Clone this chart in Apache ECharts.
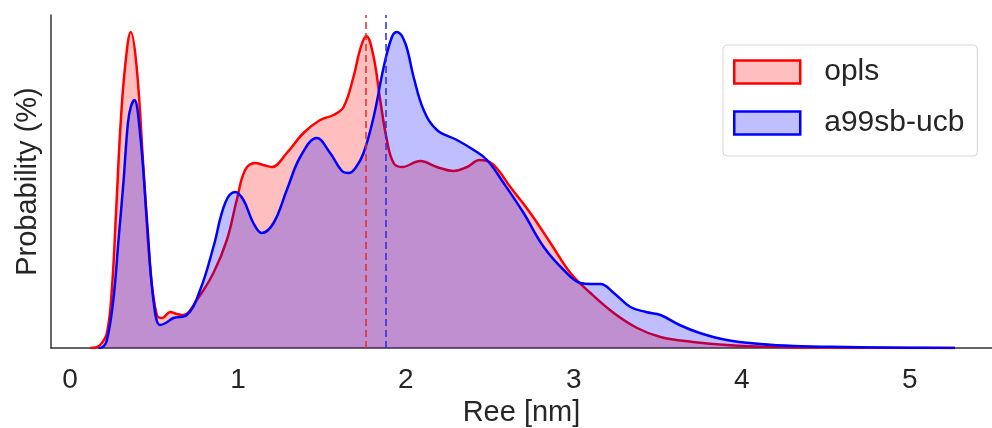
<!DOCTYPE html>
<html>
<head>
<meta charset="utf-8">
<script src="https://cdn.jsdelivr.net/npm/echarts@6/dist/echarts.min.js"></script>
<style>
html, body { margin: 0; padding: 0; background: #fff; }
#chart { width: 992px; height: 428px; }
</style>
</head>
<body>
<div id="chart"></div>
<script>
// Ree distributions (kde heights, arbitrary units)
var oplsX = [0.12, 0.15, 0.18, 0.22, 0.25, 0.278, 0.30, 0.328, 0.362, 0.397, 0.437, 0.477, 0.517, 0.55, 0.596, 0.635, 0.675, 0.755, 0.854, 0.934, 0.993, 1.043, 1.103, 1.15, 1.202, 1.291, 1.39, 1.49, 1.569, 1.629, 1.688, 1.73, 1.764, 1.808, 1.847, 1.887, 1.927, 1.977, 2.086, 2.185, 2.284, 2.364, 2.44, 2.50, 2.55, 2.622, 2.741, 2.861, 2.98, 3.099, 3.238, 3.377, 3.516, 3.71, 3.91, 4.21, 4.6, 5.0, 5.27];
var oplsY = [0, 0.5, 3, 15, 60, 148, 220, 281, 316, 281, 181, 81, 33, 30, 36, 34, 33, 48, 75, 108, 148, 178, 185, 183, 181, 195, 215, 228, 233, 241, 271, 300, 312, 291, 248, 208, 185, 181, 187, 181, 177, 181, 188, 186, 178, 161, 135, 105, 75, 55, 35, 20, 11, 6, 3, 1, 0.3, 0.1, 0];

var ucbX = [0.17, 0.19, 0.22, 0.258, 0.29, 0.318, 0.345, 0.362, 0.383, 0.417, 0.457, 0.497, 0.536, 0.57, 0.616, 0.695, 0.775, 0.854, 0.924, 0.983, 1.033, 1.092, 1.142, 1.212, 1.291, 1.371, 1.47, 1.549, 1.62, 1.659, 1.70, 1.748, 1.808, 1.868, 1.917, 1.947, 1.996, 2.046, 2.106, 2.185, 2.304, 2.404, 2.483, 2.582, 2.701, 2.821, 2.94, 3.039, 3.10, 3.159, 3.238, 3.337, 3.43, 3.516, 3.63, 3.75, 3.91, 4.11, 4.31, 4.61, 5.0, 5.27];
var ucbY = [0, 0.5, 8, 48, 110, 165, 225, 241, 248, 215, 131, 48, 23, 25, 30, 33, 58, 101, 145, 156, 148, 125, 115, 125, 158, 191, 210, 195, 177, 175, 180, 195, 231, 281, 311, 316, 305, 271, 238, 218, 208, 198, 188, 165, 135, 101, 78, 65, 64, 64, 55, 41, 36, 33, 23, 15, 8, 4, 2, 1, 0.3, 0];

var meanOpls = 1.764;
var meanUcb = 1.883;
var xTicks = [0, 1, 2, 3, 4, 5];

function pairs(xs, ys) {
    return xs.map(function (x, i) { return [x, ys[i]]; });
}

var font = 'Liberation Sans, Arial, sans-serif';
var chart = echarts.init(document.getElementById('chart'));
var option = {
    animation: false,
    backgroundColor: '#fff',
    grid: { left: 51, right: 0, top: 15, bottom: 80, outerBoundsMode: 'none' },
    legend: {
        orient: 'vertical',
        left: 723,
        top: 45,
        icon: 'rect',
        itemWidth: 66,
        itemHeight: 23,
        itemGap: 21,
        padding: [12, 13, 18, 10],
        backgroundColor: 'rgba(255,255,255,0.8)',
        borderColor: '#d6d6d6',
        borderWidth: 1,
        borderRadius: 4,
        textStyle: { fontFamily: font, fontSize: 30, color: '#262626', lineHeight: 23, padding: [0, 0, 0, 19] },
        data: [
            { name: 'opls', itemStyle: { color: 'rgba(255,0,0,0.25)', borderColor: '#ff0000', borderWidth: 2.5 } },
            { name: 'a99sb-ucb', itemStyle: { color: 'rgba(0,0,255,0.25)', borderColor: '#0000ff', borderWidth: 2.5 } }
        ]
    },
    xAxis: {
        type: 'value',
        min: -0.113,
        max: 5.49,
        name: 'Ree [nm]',
        nameLocation: 'middle',
        nameGap: 49,
        nameTextStyle: { fontFamily: font, fontSize: 29, color: '#262626' },
        axisLine: { onZero: false, lineStyle: { color: '#333', width: 1.5 } },
        axisTick: { show: false },
        splitLine: { show: false },
        axisLabel: { customValues: xTicks, fontFamily: font, fontSize: 28, color: '#262626', margin: 18 }
    },
    yAxis: {
        type: 'value',
        min: 0,
        max: 333,
        name: 'Probability (%)',
        nameLocation: 'middle',
        nameGap: 9,
        nameTextStyle: { fontFamily: font, fontSize: 29, color: '#262626' },
        axisLine: { show: true, onZero: false, lineStyle: { color: '#333', width: 1.5 } },
        axisTick: { show: false },
        axisLabel: { show: false },
        splitLine: { show: false }
    },
    series: [
        {
            name: 'opls',
            type: 'line',
            z: 1,
            data: pairs(oplsX, oplsY),
            smooth: 0.4,
            symbol: 'none',
            lineStyle: { color: '#ff0000', width: 2.5 },
            itemStyle: { color: '#ff0000' },
            areaStyle: { color: '#ff0000', opacity: 0.25 },
            markLine: {
                silent: true,
                symbol: 'none',
                label: { show: false },
                lineStyle: { color: 'rgba(230,40,40,0.75)', type: [7, 4], width: 2 },
                data: [{ xAxis: meanOpls }]
            }
        },
        {
            name: 'a99sb-ucb',
            type: 'line',
            z: 2,
            data: pairs(ucbX, ucbY),
            smooth: 0.4,
            symbol: 'none',
            lineStyle: { color: '#0000ff', width: 2.5 },
            itemStyle: { color: '#0000ff' },
            areaStyle: { color: '#0000ff', opacity: 0.25 },
            markLine: {
                silent: true,
                symbol: 'none',
                label: { show: false },
                lineStyle: { color: 'rgba(40,40,230,0.75)', type: [7, 4], width: 2 },
                data: [{ xAxis: meanUcb }]
            }
        }
    ]
};
chart.setOption(option);
</script>
</body>
</html>
